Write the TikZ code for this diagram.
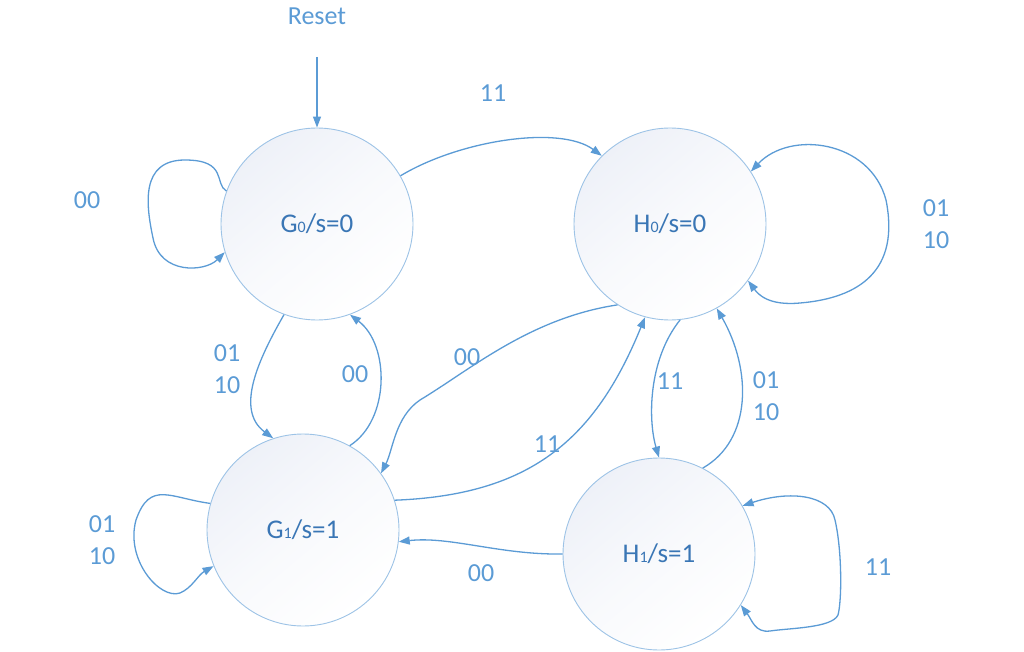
\documentclass[tikz,border=0pt]{standalone}
\usepackage{fontspec}
\setmainfont{Carlito}
\usepackage{tikz}
\usetikzlibrary{arrows.meta,positioning,calc}
\definecolor{edgeblue}{HTML}{5B9BD5}
\definecolor{textblue}{HTML}{3A76B5}
\definecolor{ringblue}{HTML}{9DC3E6}
\definecolor{shadeblue}{HTML}{EEF1F8}
\newcommand{\sub}[1]{{\fontsize{16}{16}\selectfont #1}}

\begin{document}
\begin{tikzpicture}[x=1pt, y=-1pt, >={Triangle[length=11pt,width=8pt]},
    state/.style={circle, draw=ringblue, line width=0.9pt, minimum size=192pt, inner sep=0pt,
        top color=shadeblue, bottom color=white, middle color=white!60!shadeblue, shading angle=40,
        text=textblue, font=\fontsize{27}{30}\selectfont},
    trans/.style={draw=edgeblue, line width=1.3pt},
    lbl/.style={text=edgeblue, font=\fontsize{26}{32}\selectfont, align=center, inner sep=0pt}]
    \useasboundingbox (0,0) rectangle (1024,652);

    % States
    \node[state] (g0) at (317,224) {G\sub{0}/s=0};
    \node[state] (h0) at (670,224) {H\sub{0}/s=0};
    \node[state] (g1) at (303,530) {G\sub{1}/s=1};
    \node[state] (h1) at (659,554) {H\sub{1}/s=1};

    % Reset
    \node[lbl] (reset) at (317,16) {Reset};
    \coordinate (resetin) at (317,57);
    \draw[trans,->] (resetin) -- (g0.north);

    % Self loops
    \draw[trans,->] (g0.160) .. controls (214,184) and (228,160) .. (185,160)
        .. controls (140,160) and (146,205) .. (153,238)
        .. controls (160,275) and (205,272) .. (g0.197);
    \draw[trans,<->] (h0.33) .. controls (790,130) and (870,140) .. (886,200)
        .. controls (900,270) and (860,298) .. (800,303)
        .. controls (768,306) and (758,294) .. (h0.324);
    \draw[trans,->] (g1.164) .. controls (170,498) and (150,480) .. (136,520)
        .. controls (125,560) and (160,600) .. (180,593)
        .. controls (192,588) and (198,575) .. (g1.202);
    \draw[trans,<->] (h1.30) .. controls (790,490) and (830,495) .. (835,520)
        .. controls (842,550) and (842,600) .. (838,615)
        .. controls (832,628) and (790,628) .. (770,631)
        .. controls (755,633) and (752,620) .. (h1.328);

    % Transitions
    \draw[trans,->] (g0.30) .. controls (460,140) and (560,125) .. (h0.135);
    \draw[trans,->] (g0.250) .. controls (258,360) and (235,410) .. (g1.108);
    \draw[trans,->] (g1.61) .. controls (390,420) and (390,345) .. (g0.290);
    \draw[trans,->] (h0.237) .. controls (530,318) and (470,370) .. (420,400)
        .. controls (395,417) and (393,450) .. (g1.36);
    \draw[trans,->] (g1.18) .. controls (530,495) and (595,440) .. (h0.255);
    \draw[trans,->] (h0.276) .. controls (648,360) and (648,420) .. (h1.90);
    \draw[trans,->] (h1.63) .. controls (752,440) and (752,370) .. (h0.299);
    \draw[trans,->] (h1.180) .. controls (500,555) and (450,536) .. (g1.353);

    % Labels
    \node[lbl] (l1) at (493,93) {11};
    \node[lbl] (l2) at (87,200) {00};
    \node[lbl] (l3) at (936,224) {01\\10};
    \node[lbl] (l4) at (227,369) {01\\10};
    \node[lbl] (l5) at (355,374) {00};
    \node[lbl] (l6) at (467,357) {00};
    \node[lbl] (l7) at (547,444) {11};
    \node[lbl] (l8) at (670,381) {11};
    \node[lbl] (l9) at (766,396) {01\\10};
    \node[lbl] (l10) at (481,573) {00};
    \node[lbl] (l11) at (878,567) {11};
    \node[lbl] (l12) at (102,540) {01\\10};
\end{tikzpicture}
\end{document}
